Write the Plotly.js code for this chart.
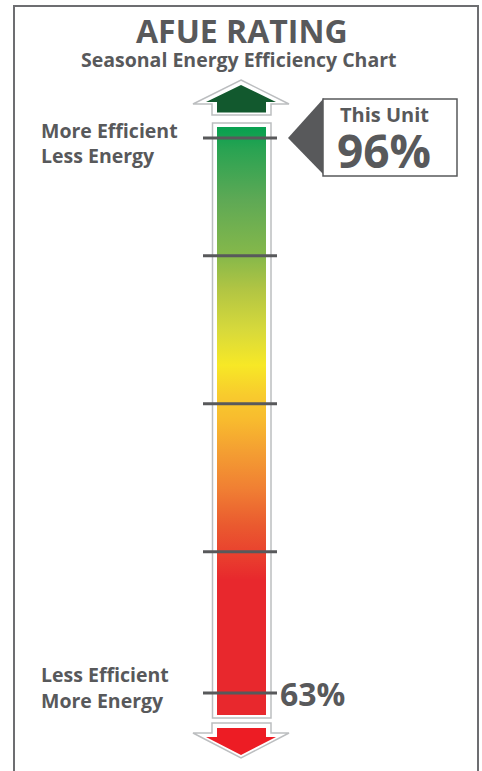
<!DOCTYPE html>
<html><head><meta charset="utf-8">
<script src="https://cdn.plot.ly/plotly-3.0.1.min.js"></script>
<style>html,body{margin:0;padding:0;background:#fff;}#chart{width:482px;height:771px;}</style>
</head><body><div id="chart"></div>
<script>
// ---- data ----
const chartTitle = 'AFUE RATING';
const chartSubtitle = 'Seasonal Energy Efficiency Chart';
const topLabels = ['More Efficient', 'Less Energy'];
const bottomLabels = ['Less Efficient', 'More Energy'];
const unitLabel = 'This Unit';
const unitRating = 96;
const minRating = 63;
const scaleMarks = [63, 71.4, 80.2, 89, 96];
const barRange = [61.69, 96.65];

// ---- style ----
const W = 482, H = 771;
const yRange = [58.362, 104.205];
const TXT = '#58595b';
const FONT = 'Open Sans, Noto Sans, sans-serif';
const gradStops = [0, 0.23, 0.272, 0.323, 0.383, 0.451, 0.502, 0.544, 0.595, 0.655, 0.723, 0.781, 0.876, 0.961, 1];
const gradColors = ['#e8282d', '#e8282d', '#e9402e', '#ea5a2f', '#f07e33', '#f4a032', '#f8bb2e', '#f8cb2d', '#f7e826', '#d7d93b', '#b2c543', '#86b84a', '#5ea955', '#2aa352', '#06a04f'];

const P = y => 1 - y / H;                       // pixel -> paper
const vPx = v => (yRange[1] - v) / (yRange[1] - yRange[0]) * H; // value -> pixel
const path = pts => 'M' + pts.map(p => p[0] + ',' + P(p[1])).join(' L') + ' Z';

const barX = [217, 266];
const traces = [{
  type: 'scatter', mode: 'lines',
  x: [barX[0], barX[1], barX[1], barX[0], barX[0]],
  y: [barRange[0], barRange[0], barRange[1], barRange[1], barRange[0]],
  fill: 'toself', line: {width: 0, color: 'rgba(0,0,0,0)'},
  fillgradient: {type: 'vertical', start: barRange[0], stop: barRange[1],
    colorscale: gradStops.map((s, i) => [s, gradColors[i]])},
  hoverinfo: 'skip', showlegend: false
}];

const shapes = [];
// outer frame
shapes.push({type: 'rect', xref: 'x', yref: 'paper', x0: 14, x1: 478, y0: P(6), y1: P(800),
  line: {color: '#6d6e71', width: 2}, fillcolor: 'rgba(0,0,0,0)', layer: 'below'});
// bar outline
shapes.push({type: 'rect', xref: 'x', yref: 'paper', x0: 212.5, x1: 271, y0: P(vPx(barRange[1]) - 4), y1: P(vPx(barRange[0]) + 3),
  line: {color: '#bcbec0', width: 1.5}, fillcolor: '#ffffff', layer: 'below'});
// top arrow
shapes.push({type: 'path', xref: 'x', yref: 'paper', layer: 'above',
  path: path([[241, 80], [289, 104], [271, 104], [271, 115], [212, 115], [212, 104], [193, 104]]),
  line: {color: '#bcbec0', width: 1.5}, fillcolor: '#ffffff'});
shapes.push({type: 'path', xref: 'x', yref: 'paper', layer: 'above',
  path: path([[241, 85], [276, 102], [266, 102], [266, 112.5], [217, 112.5], [217, 102], [206, 102]]),
  line: {width: 0}, fillcolor: '#12592e'});
// bottom arrow
shapes.push({type: 'path', xref: 'x', yref: 'paper', layer: 'above',
  path: path([[212, 723], [271, 723], [271, 733], [289, 733], [241, 758], [193, 733], [212, 733]]),
  line: {color: '#bcbec0', width: 1.5}, fillcolor: '#ffffff'});
shapes.push({type: 'path', xref: 'x', yref: 'paper', layer: 'above',
  path: path([[217, 728], [266, 728], [266, 737], [276, 737], [241, 755], [206, 737], [217, 737]]),
  line: {width: 0}, fillcolor: '#ed1c24'});
// scale marks
scaleMarks.forEach(v => shapes.push({type: 'line', xref: 'x', yref: 'y', x0: 203, x1: 277, y0: v, y1: v,
  line: {color: '#58595b', width: 3}, layer: 'above'}));
// callout
const cy = vPx(unitRating);
shapes.push({type: 'path', xref: 'x', yref: 'paper', layer: 'above',
  path: path([[288, cy], [324, cy - 40], [324, cy + 37]]), line: {width: 0}, fillcolor: '#58595b'});
shapes.push({type: 'rect', xref: 'x', yref: 'paper', x0: 323, x1: 457, y0: P(cy - 39), y1: P(cy + 38),
  line: {color: '#58595b', width: 1.5}, fillcolor: '#ffffff', layer: 'above'});

const ann = (text, x, y, size, xanchor, yref) => ({text, x, y, xref: 'x', yref: yref || 'paper',
  xanchor: xanchor || 'center', yanchor: 'middle', showarrow: false, borderpad: 0,
  font: {family: FONT, size, color: TXT, weight: 700}});

const annotations = [
  ann(chartTitle, 242, P(31), 32),
  ann(chartSubtitle, 239, P(60), 19.5),
  ann(topLabels[0], 40, P(130), 19.5, 'left'),
  ann(topLabels[1], 40, P(156), 19.5, 'left'),
  ann(bottomLabels[0], 40, P(674), 19.5, 'left'),
  ann(bottomLabels[1], 40, P(700), 19.5, 'left'),
  ann(minRating + '%', 279, minRating, 32, 'left', 'y'),
  ann(unitLabel, 339, P(cy - 23), 20, 'left'),
  ann(unitRating + '%', 336, P(cy + 12), 46, 'left'),
];

const layout = {
  width: W, height: H, margin: {l: 0, r: 0, t: 0, b: 0, pad: 0},
  paper_bgcolor: '#ffffff', plot_bgcolor: '#ffffff',
  xaxis: {range: [0, W], visible: false, fixedrange: true},
  yaxis: {range: yRange, visible: false, fixedrange: true},
  shapes, annotations, showlegend: false
};
Plotly.newPlot('chart', traces, layout, {displayModeBar: false, staticPlot: true});
</script></body></html>
